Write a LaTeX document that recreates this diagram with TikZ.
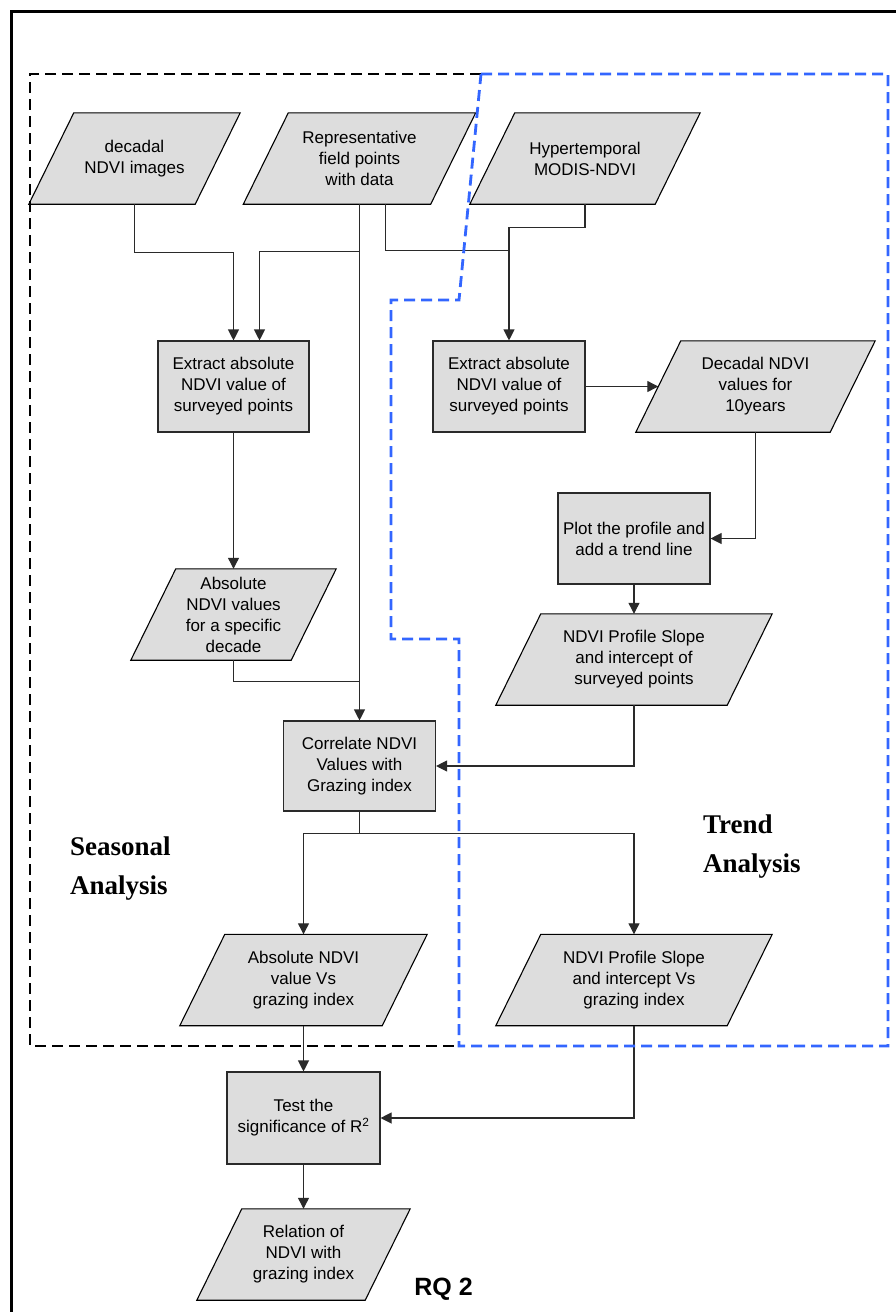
\documentclass[tikz,border=0pt]{standalone}
\usepackage{fontspec}
\setmainfont{Liberation Sans}
\newfontfamily\headserif{Liberation Serif}
\usetikzlibrary{arrows.meta,calc,backgrounds}

\definecolor{boxgray}{HTML}{DDDDDD}
\definecolor{trendblue}{RGB}{51,102,255}
\definecolor{linegray}{HTML}{2A2A2A}

\tikzset{
  conn/.style={draw=linegray, line width=1.1pt},
  arr/.style={conn, -{Triangle[length=11pt,width=11pt]}},
  boxtext/.style={font=\fontsize{17}{21}\selectfont, align=center},
  procbox/.style={boxtext, rectangle, draw=linegray, line width=1.1pt,
                  fill=boxgray, inner sep=1pt},
  paratext/.style={boxtext, rectangle, inner sep=0pt, minimum height=91pt},
  parashape/.style={draw=black, line width=1.1pt, fill=boxgray},
  blkdash/.style={draw=black, line width=2.8pt, dash pattern=on 11pt off 6pt},
  bluedash/.style={draw=trendblue, line width=2.8pt, dash pattern=on 11pt off 6pt},
  heading/.style={font=\headserif\bfseries\fontsize{27}{39}\selectfont,
                  align=left, inner sep=0pt, anchor=west},
}

% data node: a parallelogram with its text; name, x, y, total width, text
\newcommand{\datanode}[5]{%
  \node[paratext, minimum width=#4pt] (#1) at (#2,#3) {#5};
  \begin{pgfonlayer}{background}
    \path[parashape] ([xshift=45pt]#1.north west) -- (#1.north east)
      -- ([xshift=-45pt]#1.south east) -- (#1.south west) -- cycle;
  \end{pgfonlayer}
  \coordinate (#1-w) at ([xshift=22.5pt]#1.west);
}

\begin{document}
\begin{tikzpicture}[x=1pt,y=-1pt]
\useasboundingbox (0,0) rectangle (896,1312);
\clip (0,0) rectangle (896,1312);

% outer frame
\draw[line width=3pt] (11,11) rectangle (940,1360);

% inputs
\datanode{dimg}{134.5}{158.5}{211}{decadal\\NDVI images}
\datanode{rep}{359.5}{158.5}{232}{Representative\\field points\\with data}
\datanode{hyp}{585}{158.5}{230}{Hypertemporal\\MODIS-NDVI}

% extraction steps
\node[procbox, minimum width=151pt, minimum height=91pt] (ext1) at (233.5,386.5)
  {Extract absolute\\NDVI value of\\surveyed points};
\node[procbox, minimum width=152pt, minimum height=91pt] (ext2) at (509,386.5)
  {Extract absolute\\NDVI value of\\surveyed points};
\datanode{dec}{755.5}{386.5}{239}{Decadal NDVI\\values for\\10years}

% trend branch
\node[procbox, minimum width=152pt, minimum height=91pt] (plot) at (634,538.5)
  {Plot the profile and\\add a trend line};
\datanode{slope}{634}{659.5}{276}{NDVI Profile Slope\\and intercept of\\surveyed points}

% seasonal branch
\datanode{absv}{233.5}{614.5}{205}{Absolute\\NDVI values\\for a specific\\decade}

% correlation
\node[procbox, minimum width=152pt, minimum height=90pt] (corr) at (359.5,766)
  {Correlate NDVI\\Values with\\Grazing index};

\datanode{absg}{303.5}{980}{247}{Absolute NDVI\\value Vs\\grazing index}
\datanode{slopeg}{634}{980}{276}{NDVI Profile Slope\\and intercept Vs\\grazing index}

\node[procbox, minimum width=153pt, minimum height=92pt] (test) at (303.5,1118)
  {Test the\\significance of R\textsuperscript{2}};
\datanode{rel}{303.5}{1254.5}{213}{Relation of\\NDVI with\\grazing index}

% connectors
\coordinate (repj) at ($(rep.south)+(0,46)$);
\draw[arr] (dimg.south) -- ++(0,48) -| (ext1.north);
\draw[arr] (rep.south) -- ++(0,47) -| ([xshift=26pt]ext1.north);
\draw[arr] (rep.south) -- (corr.north);
\draw[conn] ([xshift=26pt]rep.south) |- (repj -| ext2.north);
\draw[arr] (hyp.south) -- ++(0,23) -| (ext2.north);
\draw[arr] (ext2.east) -- (dec-w);
\draw[arr] (dec.south) |- (plot.east);
\draw[arr] (plot.south) -- (slope.north);
\draw[arr] (ext1.south) -- (absv.north);
\draw[conn] (absv.south) |- ($(corr.north)+(0,-39)$);
\draw[arr] (slope.south) |- (corr.east);
\draw[conn] (corr.south) -- ++(0,22) coordinate (split);
\draw[arr] (split) -| (absg.north);
\draw[arr] (split) -| (slopeg.north);
\draw[arr] (absg.south) -- (test.north);
\draw[arr] (slopeg.south) |- (test.east);
\draw[arr] (test.south) -- (rel.north);

% analysis groups
\draw[blkdash] (481,74) -- (30,74) -- (30,1046) -- (459,1046);
\draw[bluedash] (481,74) -- (888,74) -- (888,1046) -- (459,1046) -- (459,639)
  -- (391,639) -- (391,300) -- (459,300) -- cycle;

\node[heading] (seasonal) at (70,869) {Seasonal\\Analysis};
\node[heading] (trend) at (703,847) {Trend\\Analysis};

\node[font=\bfseries\fontsize{25}{30}\selectfont, anchor=base, inner sep=0pt]
  (rq) at (443.5,1295) {RQ 2};
\end{tikzpicture}
\end{document}
